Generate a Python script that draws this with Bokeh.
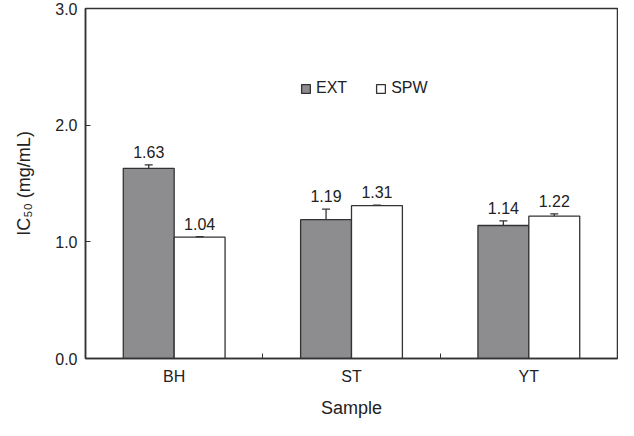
from bokeh.plotting import figure
from bokeh.models import (ColumnDataSource, FixedTicker, Whisker, TeeHead, LabelSet,
                          Range1d, Legend, LegendItem, PrintfTickFormatter)
from bokeh.core.properties import value
from bokeh.embed import file_html
from bokeh.resources import INLINE

# ---- data ----
samples = ["BH", "ST", "YT"]
ext_vals = [1.63, 1.19, 1.14]
ext_err = [0.03, 0.09, 0.04]
spw_vals = [1.04, 1.31, 1.22]
spw_err = [0.005, 0.004, 0.02]
y_ticks = [0.0, 1.0, 2.0, 3.0]

FONT = "Liberation Sans"
DARK = "#333333"
GRAY = "#8d8d90"

centers = [i + 0.5 for i in range(len(samples))]
bw = 0.287
ext_x = [c - bw / 2 for c in centers]
spw_x = [c + bw / 2 for c in centers]

p = figure(width=618, height=420, x_range=Range1d(0, len(samples)), y_range=Range1d(0, 3),
           output_backend="svg", toolbar_location=None,
           min_border_left=85, min_border_right=1, min_border_top=8)
p.xgrid.visible = False
p.ygrid.visible = False
p.outline_line_color = DARK
p.outline_line_width = 1.5
p.background_fill_color = "white"
p.border_fill_color = "white"

ext_src = ColumnDataSource(dict(x=ext_x, top=ext_vals,
                                upper=[v + e for v, e in zip(ext_vals, ext_err)],
                                label=["%.2f" % v for v in ext_vals]))
spw_src = ColumnDataSource(dict(x=spw_x, top=spw_vals,
                                upper=[v + e for v, e in zip(spw_vals, spw_err)],
                                label=["%.2f" % v for v in spw_vals]))

r_ext = p.vbar(x="x", top="top", bottom=0, width=bw, source=ext_src,
               fill_color=GRAY, line_color=DARK, line_width=1.3)
r_spw = p.vbar(x="x", top="top", bottom=0, width=bw, source=spw_src,
               fill_color="white", line_color=DARK, line_width=1.3)

for src in (ext_src, spw_src):
    w = Whisker(base="x", lower="top", upper="upper", source=src, dimension="height",
                line_color=DARK, line_width=1.3,
                upper_head=TeeHead(size=8, line_color=DARK, line_width=1.3),
                lower_head=None, level="overlay")
    p.add_layout(w)
    lab = LabelSet(x="x", y="upper", text="label", source=src, text_align="center",
                   text_baseline="bottom", y_offset=7, text_font_size="16px",
                   text_font=value(FONT), text_color="#222222")
    p.add_layout(lab)

# y axis
ya = p.yaxis[0]
ya.ticker = FixedTicker(ticks=y_ticks, minor_ticks=[])
ya.formatter = PrintfTickFormatter(format="%.1f")
ya.major_tick_in = 5
ya.major_tick_out = 0
ya.major_tick_line_color = DARK
ya.axis_line_color = DARK
ya.axis_line_width = 1.5
ya.major_label_standoff = 8
ya.major_label_text_font = FONT
ya.major_label_text_font_size = "16px"
ya.major_label_text_color = "#222222"
ya.axis_label = "IC\u2085\u2080 (mg/mL)"
ya.axis_label_text_font = FONT
ya.axis_label_text_font_size = "18px"
ya.axis_label_text_font_style = "normal"
ya.axis_label_text_color = "#222222"
ya.axis_label_standoff = 18

# x axis
xa = p.xaxis[0]
xa.ticker = FixedTicker(ticks=centers, minor_ticks=[float(i) for i in range(1, len(samples))])
xa.major_label_overrides = {c: s for c, s in zip(centers, samples)}
xa.major_tick_in = 0
xa.major_tick_out = 0
xa.minor_tick_in = 5
xa.minor_tick_out = 0
xa.minor_tick_line_color = DARK
xa.axis_line_color = DARK
xa.axis_line_width = 1.5
xa.major_label_standoff = 9
xa.major_label_text_font = FONT
xa.major_label_text_font_size = "16px"
xa.major_label_text_color = "#222222"
xa.axis_label = "Sample"
xa.axis_label_text_font = FONT
xa.axis_label_text_font_size = "18px"
xa.axis_label_text_font_style = "normal"
xa.axis_label_text_color = "#222222"
xa.axis_label_standoff = 10

legend = Legend(items=[LegendItem(label="EXT", renderers=[r_ext]),
                       LegendItem(label="SPW", renderers=[r_spw])],
                orientation="horizontal", location=(215, 261),
                padding=0, margin=0, spacing=28, label_standoff=5,
                glyph_width=11, glyph_height=11,
                label_text_font=FONT, label_text_font_size="16px",
                label_text_color="#222222",
                border_line_color=None, background_fill_alpha=0)
p.add_layout(legend)

open("out.html", "w").write(file_html(p, INLINE))
